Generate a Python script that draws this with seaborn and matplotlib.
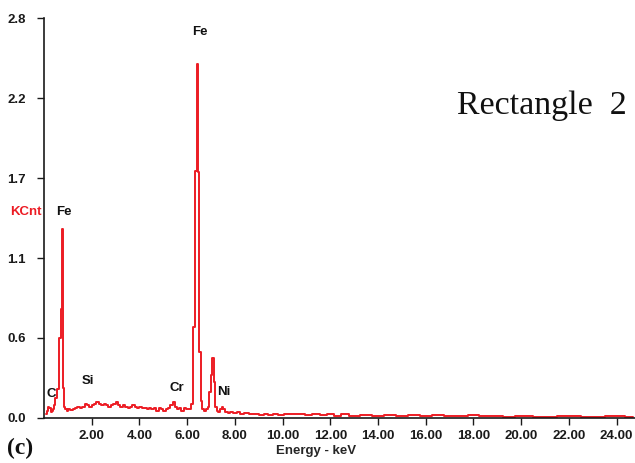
import matplotlib
matplotlib.use('Agg')
import matplotlib.pyplot as plt
import seaborn as sns
import pandas as pd

# EDS spectrum (energy keV, counts in KCnt)
energy = [0.10, 0.15, 0.20, 0.25, 0.30, 0.35, 0.40, 0.45, 0.50, 0.55,
          0.62, 0.67, 0.72, 0.77, 0.82, 0.87, 0.92, 0.98, 1.05, 1.15,
          1.25, 1.35, 1.45, 1.55, 1.65, 1.75, 1.85, 1.95, 2.05, 2.15,
          2.25, 2.35, 2.45, 2.55, 2.65, 2.75, 2.85, 2.95, 3.05, 3.15,
          3.25, 3.35, 3.45, 3.55, 3.65, 3.75, 3.85, 3.95, 4.05, 4.15,
          4.25, 4.35, 4.45, 4.55, 4.65, 4.75, 4.85, 4.95, 5.05, 5.15,
          5.25, 5.35, 5.45, 5.53, 5.62, 5.70, 5.80, 5.90, 6.00, 6.10,
          6.22, 6.29, 6.36, 6.43, 6.49, 6.54, 6.60, 6.66, 6.74, 6.82,
          6.90, 6.97, 7.03, 7.09, 7.14, 7.20, 7.26, 7.33, 7.41, 7.48,
          7.56, 7.65, 7.75, 7.85, 8.00, 8.15, 8.30, 8.50, 8.70, 8.90,
          9.10, 9.30, 9.50, 9.70, 9.90, 10.2, 10.5, 10.8, 11.1, 11.4,
          11.7, 12.0, 12.3, 12.6, 13.0, 13.5, 14.0, 14.5, 15.0, 15.5,
          16.0, 16.5, 17.0, 17.5, 18.0, 18.5, 19.0, 19.5, 20.0, 21.0,
          22.0, 23.0, 24.0, 24.7]
kcnt = [0.03, 0.05, 0.08, 0.07, 0.04, 0.05, 0.06, 0.09, 0.14, 0.20,
        0.20, 0.56, 0.76, 1.32, 0.21, 0.08, 0.06, 0.05, 0.06, 0.055,
        0.06, 0.07, 0.08, 0.07, 0.08, 0.10, 0.09, 0.08, 0.09, 0.10,
        0.11, 0.10, 0.09, 0.10, 0.09, 0.08, 0.09, 0.10, 0.11, 0.09,
        0.08, 0.09, 0.08, 0.07, 0.08, 0.09, 0.08, 0.07, 0.08, 0.07,
        0.07, 0.06, 0.07, 0.06, 0.07, 0.05, 0.07, 0.06, 0.05, 0.06,
        0.07, 0.09, 0.11, 0.08, 0.06, 0.07, 0.05, 0.07, 0.06, 0.06,
        0.10, 0.64, 1.73, 2.48, 1.72, 0.46, 0.12, 0.06, 0.05, 0.06,
        0.08, 0.18, 0.30, 0.42, 0.25, 0.08, 0.05, 0.04, 0.06, 0.08,
        0.06, 0.04, 0.035, 0.04, 0.035, 0.04, 0.03, 0.035, 0.025, 0.03,
        0.02, 0.025, 0.02, 0.025, 0.02, 0.03, 0.025, 0.03, 0.02, 0.025,
        0.02, 0.03, 0.015, 0.025, 0.015, 0.02, 0.015, 0.02, 0.015, 0.02,
        0.015, 0.02, 0.015, 0.015, 0.02, 0.012, 0.015, 0.01, 0.012, 0.01,
        0.012, 0.01, 0.012, 0.01]

# axis ticks / labels
y_ticks = [0.0, 0.56, 1.12, 1.68, 2.24, 2.8]
y_labels = ['0.0', '0.6', '1.1', '1.7', '2.2', '2.8']
x_ticks = [2, 4, 6, 8, 10, 12, 14, 16, 18, 20, 22, 24]
x_labels = ['%.2f' % t for t in x_ticks]

# element labels: (name, energy keV, height KCnt)
peak_names = ['C', 'Fe', 'Si', 'Cr', 'Fe', 'Ni']
peak_x = [0.32, 0.84, 1.82, 5.55, 6.55, 7.52]
peak_y = [0.17, 1.44, 0.26, 0.21, 2.70, 0.18]

red = '#ec1c24'

sns.set_style('ticks')
plt.rcParams['font.family'] = ['Liberation Sans', 'DejaVu Sans']

df = pd.DataFrame({'energy': energy, 'kcnt': kcnt})

fig = plt.figure(figsize=(6.35, 4.63), dpi=100)
ax = fig.add_axes([0.0693, 0.0972, 0.93, 0.8639])

sns.lineplot(data=df, x='energy', y='kcnt', ax=ax, color=red, lw=1.4,
             drawstyle='steps-mid', estimator=None)

ax.set_xlim(0, 24.75)
ax.set_ylim(0, 2.8)
ax.set_yticks(y_ticks)
ax.set_yticklabels(y_labels, fontweight='bold', fontsize=9.5)
ax.set_xticks(x_ticks)
ax.set_xticklabels(x_labels, fontweight='bold', fontsize=9.5)
ax.tick_params(axis='y', length=5, width=1, pad=8, colors='#1a1a1a')
ax.tick_params(axis='x', length=5, width=1, pad=4, colors='#1a1a1a')
for s in ['top', 'right']:
    ax.spines[s].set_visible(False)
for s in ['left', 'bottom']:
    ax.spines[s].set_color('#1a1a1a')
    ax.spines[s].set_linewidth(1.2)

ax.set_xlabel('Energy - keV', fontweight='bold', fontsize=9.5)
ax.xaxis.set_label_coords(0.46, -0.068)
ax.set_ylabel('')

for name, px, py in zip(peak_names, peak_x, peak_y):
    ax.text(px, py, name, ha='center', va='center', fontsize=9.5,
            fontweight='bold', color='#111111')

ax.text(-0.004, 1.44, 'KCnt', transform=ax.get_yaxis_transform(),
        ha='right', va='center', color=red, fontsize=9.5, fontweight='bold')

fig.text(0.854, 0.772, 'Rectangle  2', ha='center', va='center',
         fontsize=24.5, family='Liberation Serif', color='#111111')
fig.text(0.032, 0.032, '(c)', ha='center', va='center', fontsize=17,
         fontweight='bold', family='Liberation Serif', color='#111111')

fig.savefig('out.png', dpi=100)
